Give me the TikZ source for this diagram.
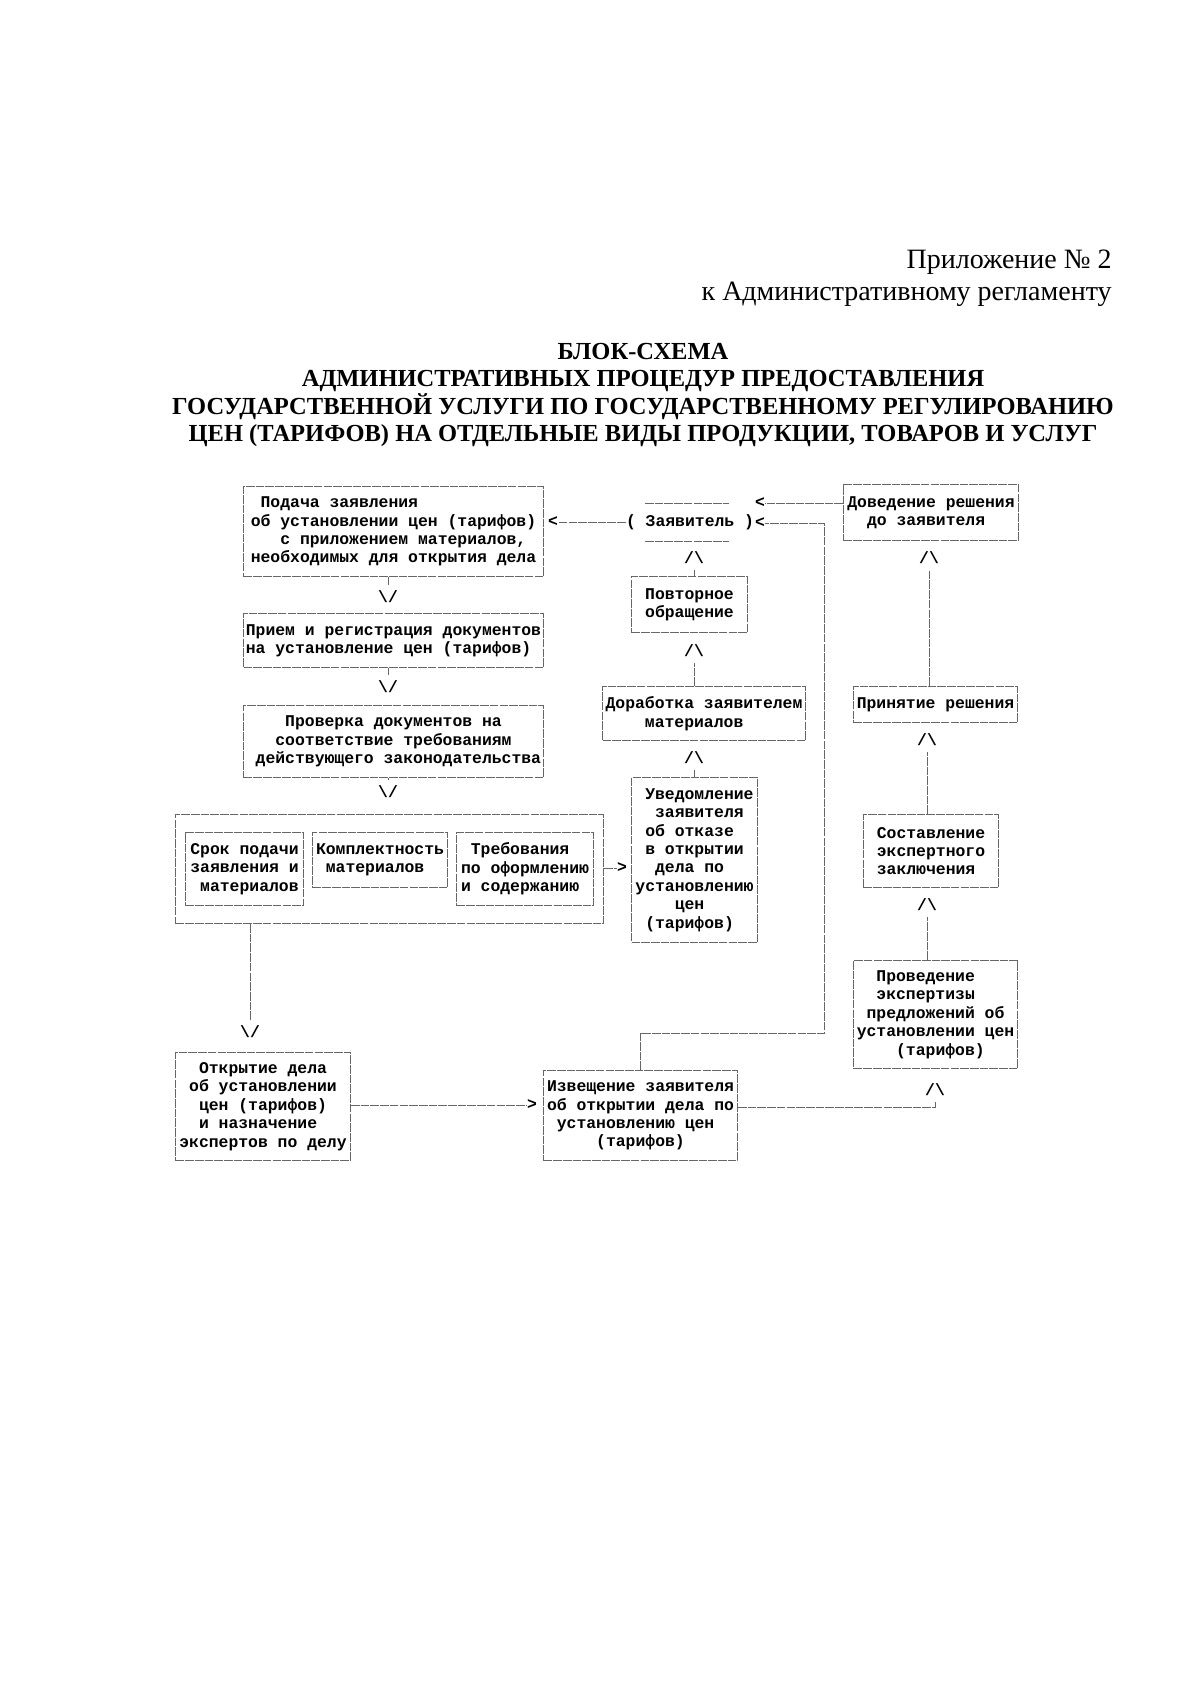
\documentclass[tikz,border=0pt]{standalone}
\usepackage{fontspec}
\usepackage{tikz}
\setmainfont{Liberation Serif}
\newfontfamily\mono{Liberation Mono}
\newcommand{\sk}[1]{\hspace*{#1\dimexpr0.6em\relax}}
\newcommand{\monotext}{\mono\bfseries\fontsize{8.2pt}{9.2pt}\selectfont}

\begin{document}
\begin{tikzpicture}[x=0.5pt, y=-0.5pt,
    rule/.style={draw=black!60, line width=0.5pt, dash pattern=on 4.3pt off 0.55pt},
    blk/.style={rule, font=\monotext, align=left, anchor=north west, inner sep=0pt},
    tip/.style={font=\monotext, inner sep=0pt, minimum height=12pt}]
    \useasboundingbox (0,0) rectangle (1200,1697);
    \fill[white] (0,0) rectangle (1200,1697);

    % header
    \node[anchor=east, inner sep=0pt, font=\fontsize{14pt}{16pt}\selectfont] (app) at (1112,262) {Приложение №~2};
    \node[anchor=east, inner sep=0pt, font=\fontsize{14pt}{16pt}\selectfont] (reg) at (1112,294) {к Административному регламенту};
    \node[align=center, font=\fontsize{12.25pt}{13.7pt}\selectfont\bfseries] (title) at (643,395)
        {БЛОК-СХЕМА\\АДМИНИСТРАТИВНЫХ ПРОЦЕДУР ПРЕДОСТАВЛЕНИЯ\\ГОСУДАРСТВЕННОЙ УСЛУГИ ПО ГОСУДАРСТВЕННОМУ РЕГУЛИРОВАНИЮ\\ЦЕН (ТАРИФОВ) НА ОТДЕЛЬНЫЕ ВИДЫ ПРОДУКЦИИ, ТОВАРОВ И УСЛУГ};

    % left column
    \node[blk, minimum width=150pt, minimum height=45pt] (podacha) at (243,486)
        {\sk{1}Подача заявления\\об установлении цен (тарифов)\\\sk{3}с приложением материалов,\\необходимых для открытия дела};
    \node[blk, minimum width=150pt, minimum height=27pt] (priem) at (243,613)
        {Прием и регистрация документов\\на установление цен (тарифов)};
    \node[blk, minimum width=150pt, minimum height=36pt] (proverka) at (243,705)
        {\sk{4}Проверка документов на\\\sk{3}соответствие требованиям\\\sk{1}действующего законодательства};
    \node[blk, minimum width=214pt, minimum height=54.5pt] (checks) at (175,814) {};
    \node[blk, minimum width=59pt, minimum height=36.5pt] (srok) at (185,832)
        {Срок подачи\\заявления и\\\sk{1}материалов};
    \node[blk, minimum width=67.5pt, minimum height=27.5pt] (komplekt) at (312,832)
        {Комплектность\\\sk{1}материалов};
    \node[blk, minimum width=68.5pt, minimum height=36.5pt] (treb) at (456,832)
        {\sk{1}Требования\\по оформлению\\и содержанию};
    \node[blk, minimum width=87.5pt, minimum height=54pt] (otkr) at (175,1052)
        {\sk{2}Открытие дела\\\sk{1}об установлении\\\sk{2}цен (тарифов)\\\sk{2}и назначение\\экспертов по делу};

    % middle column
    \node[font=\monotext, inner sep=0pt] (zayav) at (690,522) {(~Заявитель~)};
    \draw[rule] (645,503) -- (729,503);
    \draw[rule] (645,541) -- (729,541);
    \node[blk, minimum width=58pt, minimum height=28pt] (povtor) at (631,576)
        {Повторное\\обращение};
    \node[blk, minimum width=101.5pt, minimum height=27pt] (dorab) at (602,686)
        {Доработка заявителем\\\sk{4}материалов};
    \node[blk, minimum width=63pt, minimum height=82.5pt] (uved) at (631,777)
        {\sk{1}Уведомление\\\sk{2}заявителя\\\sk{1}об отказе\\\sk{1}в открытии\\\sk{2}дела по\\установлению\\\sk{4}цен\\\sk{1}(тарифов)};
    \node[blk, minimum width=97pt, minimum height=45pt] (izv) at (543,1070)
        {Извещение заявителя\\об открытии дела по\\\sk{1}установлению цен\\\sk{5}(тарифов)};

    % right column
    \node[blk, minimum width=87.5pt, minimum height=28pt] (dovedenie) at (843,484)
        {Доведение решения\\\sk{2}до заявителя};
    \node[blk, minimum width=82pt, minimum height=18pt] (prinyatie) at (853,686)
        {Принятие решения};
    \node[blk, minimum width=67.5pt, minimum height=36.5pt] (sostav) at (863,814)
        {Составление\\экспертного\\заключения};
    \node[blk, minimum width=82pt, minimum height=54pt] (provedenie) at (853,960)
        {\sk{2}Проведение\\\sk{2}экспертизы\\\sk{1}предложений об\\установлении цен\\\sk{4}(тарифов)};

    % arrow heads as printed
    \foreach \n/\x/\y in {g1/388/597, g2/388/687, g3/388/792, g4/250/1032}
        \node[tip] (\n) at (\x,\y) {\textbackslash/};
    \foreach \n/\x/\y in {g6/935/1090, g7/927/905, g8/927/740, g9/929/558, g13/694/558, g14/694/651, g15/694/758}
        \node[tip] (\n) at (\x,\y) {/\textbackslash};
    \foreach \n/\x/\y in {g5/532/1105, g16/622/868}
        \node[tip] (\n) at (\x,\y) {>};
    \foreach \n/\x/\y in {g10/760/503, g11/760/523, g12/553/522}
        \node[tip] (\n) at (\x,\y) {<};

    % connectors
    \draw[rule] (podacha.south -| g1) -- (g1.north);
    \draw[rule] (priem.south -| g2) -- (g2.north);
    \draw[rule] (proverka.south -| g3) -- (g3.north);
    \draw[rule] (checks.south -| g4) -- (g4.north);
    \draw[rule] (otkr.east |- g5) -- (g5.west);
    \draw[rule] (checks.east |- g16) -- (g16.west);
    \draw[rule] ([yshift=4pt]izv.east) -| (g6.south);
    \draw[rule] (provedenie.north -| g7) -- (g7.south);
    \draw[rule] (sostav.north -| g8) -- (g8.south);
    \draw[rule] (prinyatie.north -| g9) -- (g9.south);
    \draw[rule] (dovedenie.west |- g10) -- (g10.east);
    \coordinate (bend) at (824,1033);
    \draw[rule] (izv.north) |- (bend) |- (g11.east);
    \draw[rule] (zayav.west) -- (g12.east);
    \draw[rule] (povtor.north -| g13) -- (g13.south);
    \draw[rule] (dorab.north -| g14) -- (g14.south);
    \draw[rule] (uved.north -| g15) -- (g15.south);
\end{tikzpicture}
\end{document}
